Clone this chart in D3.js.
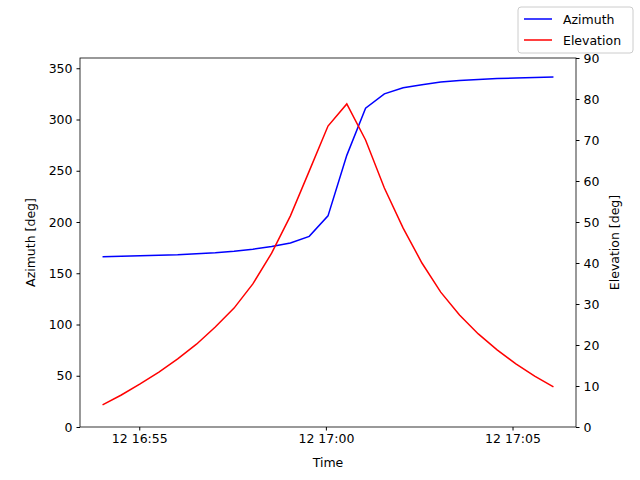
<!DOCTYPE html>
<html><head><meta charset="utf-8">
<script src="https://cdn.jsdelivr.net/npm/d3@7"></script>
<style>body{margin:0;background:#fff}text{font-family:"DejaVu Sans",sans-serif}</style>
</head><body><div id="chart"></div>
<script>
const startTime = new Date(2024, 0, 12, 16, 54, 1);
const stepSeconds = 30.2;
const azimuth = [166,166.5,167,167.5,168,169,170,171.5,173.5,176,179.5,186,206,265,311,325,331,334,336.5,338,339,340,340.5,341,341.5];
const elevation = [5.4,7.8,10.5,13.4,16.6,20.2,24.4,29,34.9,42.4,51.5,62.4,73.4,78.8,70,58.3,48.5,40,32.9,27.3,22.7,18.8,15.4,12.4,9.8];
const times = azimuth.map((_, i) => new Date(startTime.getTime() + i * stepSeconds * 1000));
const xTicks = [new Date(2024,0,12,16,55), new Date(2024,0,12,17,0), new Date(2024,0,12,17,5)];
const xTickLabels = ["12 16:55", "12 17:00", "12 17:05"];

const W = 640, H = 480, m = {top: 58, right: 64, bottom: 53, left: 80};
const svg = d3.select("#chart").append("svg").attr("width", W).attr("height", H);
const t0 = times[0].getTime(), t1 = times[times.length-1].getTime(), pad = (t1 - t0) * 0.05;
const x = d3.scaleTime().domain([new Date(t0 - pad), new Date(t1 + pad)]).range([m.left, W - m.right]);
const yL = d3.scaleLinear().domain([0, 360]).range([H - m.bottom, m.top]);
const yR = d3.scaleLinear().domain([0, 90]).range([H - m.bottom, m.top]);

svg.append("path").datum(azimuth).attr("fill", "none").attr("stroke", "blue").attr("stroke-width", 1.5)
  .attr("d", d3.line().x((d, i) => x(times[i])).y(d => yL(d)));
svg.append("path").datum(elevation).attr("fill", "none").attr("stroke", "red").attr("stroke-width", 1.5)
  .attr("d", d3.line().x((d, i) => x(times[i])).y(d => yR(d)));

const style = g => { g.selectAll("text").attr("font-size", 12.5).attr("fill", "#000"); g.selectAll("line").attr("stroke", "#000"); g.select(".domain").remove(); };
svg.append("g").attr("transform", `translate(0,${H - m.bottom})`)
  .call(d3.axisBottom(x).tickValues(xTicks).tickFormat((d, i) => xTickLabels[i]).tickSizeOuter(0).tickSize(3.5).tickPadding(4)).call(style);
svg.append("g").attr("transform", `translate(${m.left},0)`)
  .call(d3.axisLeft(yL).tickValues(d3.range(0, 351, 50)).tickSize(3.5).tickPadding(4)).call(style);
svg.append("g").attr("transform", `translate(${W - m.right},0)`)
  .call(d3.axisRight(yR).tickValues(d3.range(0, 91, 10)).tickSize(3.5).tickPadding(4)).call(style);
svg.append("rect").attr("x", m.left).attr("y", m.top).attr("width", W - m.left - m.right).attr("height", H - m.top - m.bottom)
  .attr("fill", "none").attr("stroke", "#000").attr("stroke-width", 0.8);

svg.append("text").attr("x", (m.left + W - m.right) / 2).attr("y", 467).attr("text-anchor", "middle").attr("font-size", 12.5).text("Time");
svg.append("text").attr("transform", `translate(35,${(m.top + H - m.bottom) / 2}) rotate(-90)`).attr("text-anchor", "middle").attr("font-size", 12.5).text("Azimuth [deg]");
svg.append("text").attr("transform", `translate(619,${(m.top + H - m.bottom) / 2}) rotate(-90)`).attr("text-anchor", "middle").attr("font-size", 12.5).text("Elevation [deg]");

const lg = svg.append("g").attr("transform", "translate(518,7)");
lg.append("rect").attr("width", 115).attr("height", 46).attr("rx", 3).attr("fill", "#fff").attr("stroke", "#ccc");
[["Azimuth", "blue"], ["Elevation", "red"]].forEach(([name, c], i) => {
  lg.append("line").attr("x1", 6).attr("x2", 34).attr("y1", 12 + i * 21).attr("y2", 12 + i * 21).attr("stroke", c).attr("stroke-width", 1.5);
  lg.append("text").attr("x", 45).attr("y", 16.5 + i * 21).attr("font-size", 12.5).text(name);
});
</script></body></html>
